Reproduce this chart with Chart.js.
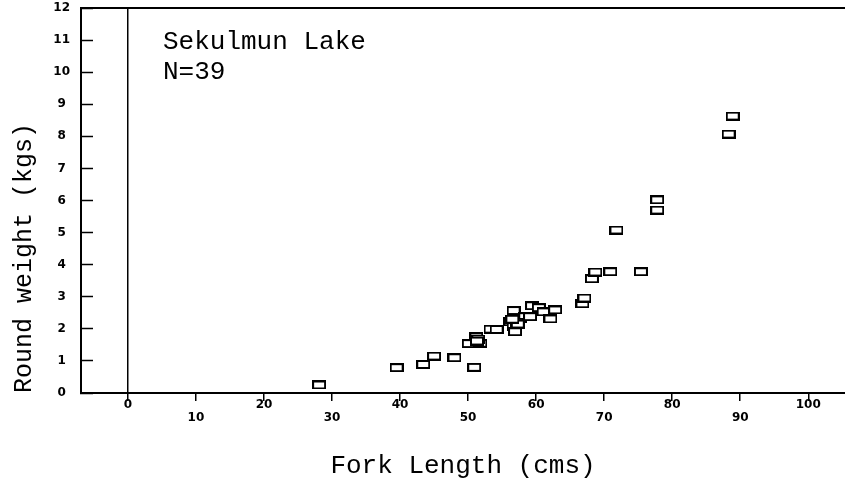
<!DOCTYPE html>
<html>
<head>
<meta charset="utf-8">
<script src="https://cdn.jsdelivr.net/npm/chart.js@4.4.1/dist/chart.umd.min.js"></script>
<style>
  html, body { margin: 0; padding: 0; background: #fff; overflow: hidden; }
  #wrap { width: 845px; height: 482px; }
  canvas { display: block; }
</style>
</head>
<body>
<div id="wrap"><canvas id="c" width="845" height="482"></canvas></div>
<script>
// ---- data ----
const forkLengthCm = [28.1, 39.5, 43.4, 45.0, 48.0, 50.9, 50.1, 51.2, 51.8, 51.5,
                      53.3, 54.2, 56.7, 56.2, 56.7, 56.9, 57.7, 58.4, 59.1, 59.4,
                      60.4, 61.1, 62.1, 62.8, 57.2, 66.8, 67.1, 68.2, 68.7, 70.9,
                      75.4, 71.8, 77.8, 77.8, 88.3, 88.9, 57.3, 56.5, 51.3];
const roundWeightKg = [0.25, 0.79, 0.89, 1.15, 1.10, 0.80, 1.54, 1.75, 1.55, 1.68,
                       1.99, 1.98, 2.57, 2.22, 2.07, 1.91, 2.33, 2.38, 2.38, 2.72,
                       2.66, 2.53, 2.31, 2.59, 2.20, 2.78, 2.96, 3.56, 3.77, 3.78,
                       3.78, 5.08, 6.02, 5.70, 8.07, 8.63, 2.15, 2.30, 1.62];
const xTickValues = [0, 10, 20, 30, 40, 50, 60, 70, 80, 90, 100];
const yTickValues = [0, 1, 2, 3, 4, 5, 6, 7, 8, 9, 10, 11, 12];
const annotationLines = ['Sekulmun Lake', 'N=39'];
const xTitle = 'Fork Length (cms)';
const yTitle = 'Round weight (kgs)';

// ---- open rectangle marker ----
const marker = document.createElement('canvas');
marker.width = 14; marker.height = 9;
(function () {
  const m = marker.getContext('2d');
  m.fillStyle = '#fff';
  m.fillRect(0, 0, 14, 9);
  m.strokeStyle = '#000';
  m.lineWidth = 2;
  m.strokeRect(1, 1, 12, 7);
})();

const points = forkLengthCm.map((x, i) => ({ x: x, y: roundWeightKg[i] }));

const framePlugin = {
  id: 'framePlugin',
  afterDraw(chart) {
    const { ctx, chartArea } = chart;
    ctx.save();
    ctx.strokeStyle = '#000';
    ctx.lineWidth = 2;
    ctx.beginPath();
    ctx.moveTo(chartArea.left, chartArea.top);
    ctx.lineTo(chartArea.right, chartArea.top);
    ctx.stroke();
    ctx.fillStyle = '#000';
    ctx.font = '26px "Liberation Mono", "DejaVu Sans Mono", monospace';
    ctx.textAlign = 'left';
    ctx.textBaseline = 'middle';
    ctx.fillText(annotationLines[0], 163, 42);
    ctx.fillText(annotationLines[1], 163, 72);
    ctx.restore();
  }
};

const tickFont = { family: '"DejaVu Sans", sans-serif', size: 12, weight: 'bold', lineHeight: 1.1 };

function zeroPadding(s) {
  s.paddingTop = 0; s.paddingBottom = 0; s.paddingLeft = 0; s.paddingRight = 0;
}

new Chart(document.getElementById('c'), {
  type: 'scatter',
  data: {
    datasets: [{
      data: points,
      pointStyle: marker,
      pointRadius: 6,
      borderColor: '#000',
      backgroundColor: '#fff',
      showLine: false,
      clip: false
    }]
  },
  options: {
    responsive: false,
    animation: false,
    devicePixelRatio: 1,
    layout: { autoPadding: false, padding: { top: 8, right: 0, left: 0, bottom: 0 } },
    plugins: { legend: { display: false }, tooltip: { enabled: false } },
    scales: {
      x: {
        type: 'linear',
        min: -6.9,
        max: 105.4,
        afterBuildTicks: (s) => { s.ticks = xTickValues.map(v => ({ value: v })); },
        afterFit: (s) => { s.height = 89; zeroPadding(s); },
        border: { display: true, color: '#000', width: 2 },
        grid: {
          display: true,
          drawOnChartArea: true,
          color: (c) => (c.tick && c.tick.value === 0 ? '#000' : 'rgba(0,0,0,0)'),
          lineWidth: 1.5,
          drawTicks: true,
          tickLength: 8,
          tickColor: '#000',
          tickWidth: 1.5
        },
        ticks: {
          color: '#000',
          font: tickFont,
          padding: -3,
          maxRotation: 0,
          autoSkip: false,
          callback: (v, i) => (i % 2 === 1 ? ['', String(v)] : String(v))
        },
        title: {
          display: true,
          text: xTitle,
          color: '#000',
          font: { family: '"Liberation Mono", "DejaVu Sans Mono", monospace', size: 26, lineHeight: 1.2 },
          padding: { top: 0, bottom: 0 }
        }
      },
      y: {
        type: 'linear',
        min: 0,
        max: 12,
        afterBuildTicks: (s) => { s.ticks = yTickValues.map(v => ({ value: v })); },
        afterFit: (s) => { s.width = 81; zeroPadding(s); },
        border: { display: true, color: '#000', width: 2 },
        grid: {
          display: true,
          drawOnChartArea: false,
          drawTicks: true,
          tickLength: -12,
          tickColor: '#000',
          tickWidth: 1.5
        },
        ticks: {
          color: '#000',
          font: tickFont,
          crossAlign: 'center',
          padding: 23,
          autoSkip: false
        },
        title: {
          display: true,
          text: yTitle,
          align: 'start',
          color: '#000',
          font: { family: '"Liberation Mono", "DejaVu Sans Mono", monospace', size: 25, lineHeight: 1.2 },
          padding: { top: 9, bottom: 0 }
        }
      }
    }
  },
  plugins: [framePlugin]
});
</script>
</body>
</html>
